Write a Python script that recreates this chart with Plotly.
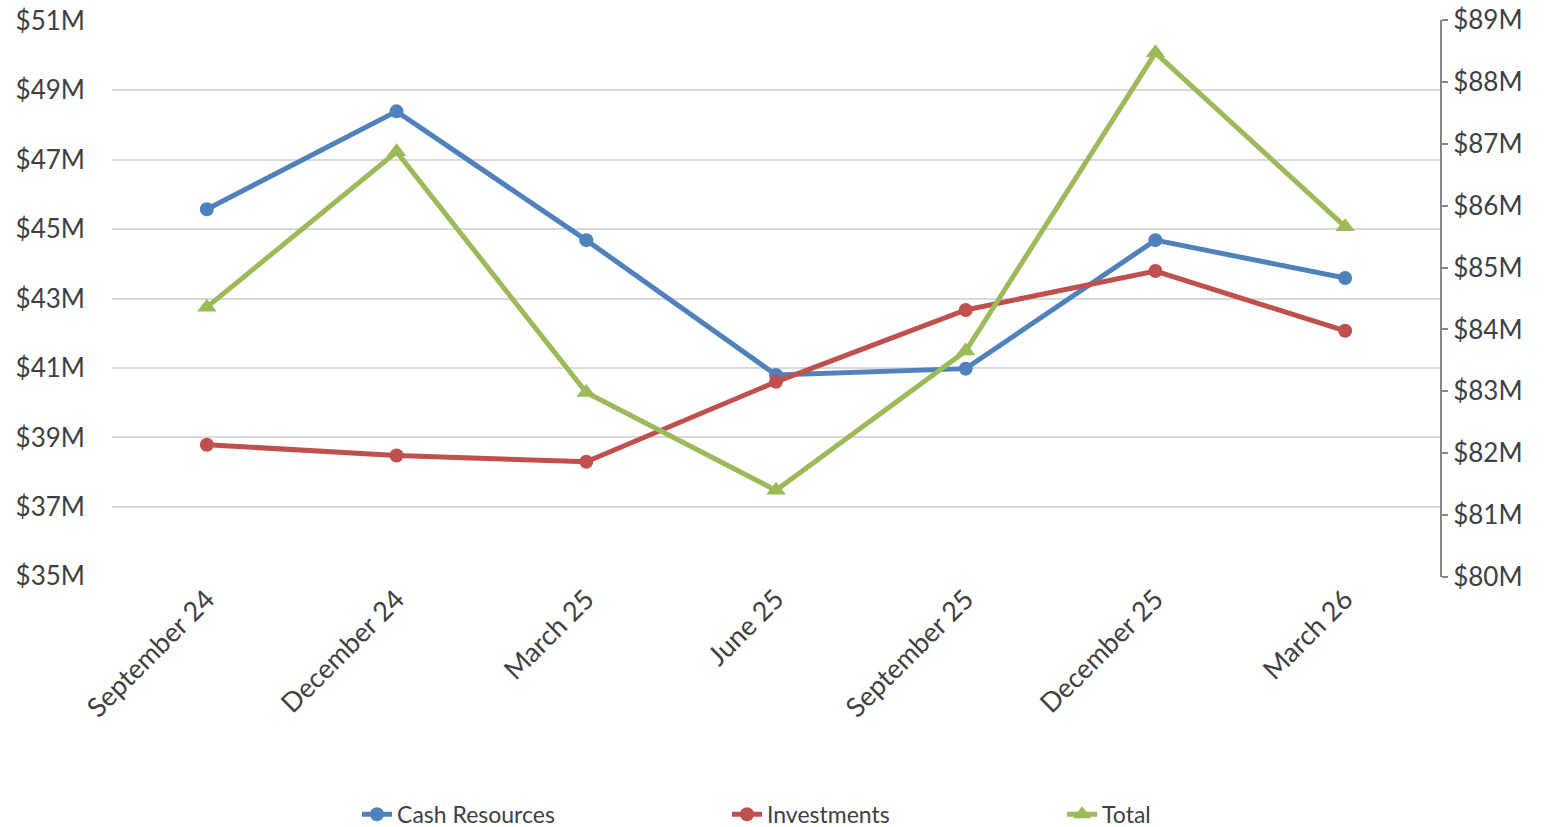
import plotly.graph_objects as go

categories = ["September 24", "December 24", "March 25", "June 25",
              "September 25", "December 25", "March 26"]
cash_resources = [45.57, 48.39, 44.68, 40.80, 40.98, 44.68, 43.59]
investments = [38.79, 38.48, 38.30, 40.60, 42.67, 43.79, 42.07]
total = [84.36, 86.87, 82.98, 81.40, 83.65, 88.47, 85.66]

FONT = "Lato"
TXT = "#404040"

fig = go.Figure()
fig.add_trace(go.Scatter(
    x=categories, y=cash_resources, name="Cash Resources", mode="lines+markers",
    line=dict(color="#4F81BD", width=5), marker=dict(symbol="circle", size=14, color="#4F81BD"),
    showlegend=True))
fig.add_trace(go.Scatter(
    x=categories, y=investments, name="Investments", mode="lines+markers",
    line=dict(color="#C0504D", width=5), marker=dict(symbol="circle", size=14, color="#C0504D"),
    legend="legend2", showlegend=True))
fig.add_trace(go.Scatter(
    x=categories, y=total, name="Total", mode="lines+markers", yaxis="y2",
    line=dict(color="#9BBB59", width=5), marker=dict(symbol="triangle-up", size=17, color="#9BBB59"),
    legend="legend3", showlegend=True))

leg_common = dict(orientation="h", yanchor="middle", y=-0.426, xanchor="left",
                  font=dict(family=FONT, size=23, color=TXT), bgcolor="rgba(0,0,0,0)")

fig.update_layout(
    width=1551, height=827,
    showlegend=True,
    margin=dict(l=112, r=111, t=20, b=250, autoexpand=False),
    paper_bgcolor="white", plot_bgcolor="white",
    font=dict(family=FONT, color=TXT),
    xaxis=dict(type="category", range=[-0.5, 6.5], tickangle=-45, showgrid=False,
               showline=False, ticks="", automargin=False,
               tickfont=dict(family=FONT, size=27, color=TXT)),
    yaxis=dict(range=[34.98, 51.02], tick0=35, dtick=2, tickprefix="$", ticksuffix="M",
               showgrid=True, gridcolor="#D9D9D9", gridwidth=2, zeroline=False,
               showline=False, ticks="", ticklabelstandoff=26, automargin=False,
               ticklabeloverflow="allow",
               tickfont=dict(family=FONT, size=26, color=TXT)),
    yaxis2=dict(range=[80, 89], tick0=80, dtick=1, tickprefix="$", ticksuffix="M",
                overlaying="y", side="right", showgrid=False, zeroline=False,
                showline=True, linecolor="#868686", linewidth=2, automargin=False,
                ticks="outside", ticklen=6, tickcolor="#868686", tickwidth=2,
                ticklabeloverflow="allow",
                tickfont=dict(family=FONT, size=26, color=TXT)),
    legend=dict(x=0.1845, **leg_common),
    legend2=dict(x=0.4631, **leg_common),
    legend3=dict(x=0.7154, **leg_common),
)

fig.write_html(
    "out.html",
    config={"displayModeBar": False},
    post_script="document.body.style.margin='0';document.body.style.overflow='hidden';",
)
